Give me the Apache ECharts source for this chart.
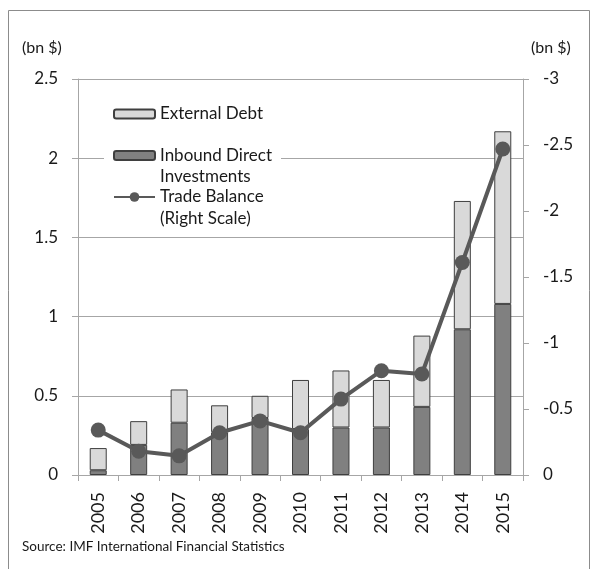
<!DOCTYPE html>
<html>
<head>
<meta charset="utf-8">
<script src="https://cdn.jsdelivr.net/npm/echarts@6/dist/echarts.min.js"></script>
<style>html,body{margin:0;padding:0;background:#fff}#c{width:597px;height:569px}</style>
</head>
<body>
<div id="c"></div>
<script>
var years = ['2005','2006','2007','2008','2009','2010','2011','2012','2013','2014','2015'];
var inboundDirect = [0.03, 0.19, 0.33, 0.27, 0.36, 0.29, 0.30, 0.30, 0.43, 0.92, 1.08];
var externalDebt = [0.14, 0.15, 0.21, 0.17, 0.14, 0.31, 0.36, 0.30, 0.45, 0.81, 1.09];
var tradeBalance = [-0.34, -0.18, -0.145, -0.32, -0.41, -0.32, -0.575, -0.79, -0.765, -1.61, -2.47];

var FONT = 'Lato';
var TXT = '#1a1a1a';
var GRID = '#a6a6a6';

var chart = echarts.init(document.getElementById('c'), null, {renderer: 'canvas'});
chart.setOption({
  animation: false,
  backgroundColor: '#fff',
  textStyle: {fontFamily: FONT},
  graphic: [
    {type: 'rect', z: -10, shape: {x: 8.5, y: 10.5, width: 581, height: 600},
     style: {fill: 'none', stroke: '#8c8c8c', lineWidth: 1}},
    {type: 'rect', z: 1, shape: {x: 104, y: 95, width: 177, height: 137},
     style: {fill: '#fff'}}
  ],
  title: [
    {text: '(bn $)', left: 22, top: 40, padding: 0, textStyle: {fontFamily: FONT, fontSize: 16, fontWeight: 'normal', color: TXT}},
    {text: '(bn $)', left: 531, top: 40, padding: 0, textStyle: {fontFamily: FONT, fontSize: 16, fontWeight: 'normal', color: TXT}},
    {text: 'Source: IMF International Financial Statistics', left: 22, top: 540, padding: 0,
     textStyle: {fontFamily: FONT, fontSize: 13.5, fontWeight: 'normal', color: TXT}}
  ],
  legend: [
    {data: ['External Debt'], left: 113, top: 104, padding: 0, selectedMode: false,
     itemWidth: 41, itemHeight: 9, itemGap: 4,
     textStyle: {fontFamily: FONT, fontSize: 17, color: TXT, lineHeight: 20}},
    {data: ['Inbound Direct Investments'], left: 113, top: 124, padding: 0, selectedMode: false,
     itemWidth: 41, itemHeight: 9, itemGap: 4,
     formatter: function(){ return '\nInbound Direct\nInvestments'; },
     textStyle: {fontFamily: FONT, fontSize: 17, color: TXT, lineHeight: 21}},
    {data: ['Trade Balance (Right Scale)'], left: 113, top: 164, padding: 0, selectedMode: false,
     itemWidth: 41, itemHeight: 12, itemGap: 4,
     formatter: function(){ return '\nTrade Balance\n(Right Scale)'; },
     textStyle: {fontFamily: FONT, fontSize: 17, color: TXT, lineHeight: 22}}
  ],
  grid: {left: 78, right: 74, top: 79, bottom: 94, containLabel: false},
  xAxis: {
    type: 'category', data: years, boundaryGap: true,
    axisLine: {show: true, lineStyle: {color: GRID, width: 1}},
    axisTick: {show: true, length: 6, lineStyle: {color: GRID}},
    axisLabel: {rotate: 90, fontFamily: FONT, fontSize: 18, color: TXT, margin: 17}
  },
  yAxis: [
    {type: 'value', min: 0, max: 2.5, interval: 0.5, position: 'left',
     axisLine: {show: true, lineStyle: {color: GRID}},
     axisTick: {show: true, length: 6, lineStyle: {color: GRID}},
     splitLine: {show: true, lineStyle: {color: GRID, width: 1}},
     axisLabel: {fontFamily: FONT, fontSize: 17, color: TXT, margin: 20}},
    {type: 'value', min: -3, max: 0, interval: 0.5, inverse: true, position: 'right',
     axisLine: {show: true, lineStyle: {color: GRID}},
     axisTick: {show: true, length: 6, lineStyle: {color: GRID}},
     splitLine: {show: false},
     axisLabel: {fontFamily: FONT, fontSize: 17, color: TXT, margin: 20}}
  ],
  series: [
    {name: 'Inbound Direct Investments', type: 'bar', stack: 'total', data: inboundDirect,
     barWidth: 17, itemStyle: {color: '#808080', borderColor: '#3f3f3f', borderWidth: 1}, z: 2},
    {name: 'External Debt', type: 'bar', stack: 'total', data: externalDebt,
     barWidth: 17, itemStyle: {color: '#d9d9d9', borderColor: '#3f3f3f', borderWidth: 1}, z: 2},
    {name: 'Trade Balance (Right Scale)', type: 'line', yAxisIndex: 1, data: tradeBalance,
     symbol: 'circle', symbolSize: 15, z: 5,
     lineStyle: {color: '#595959', width: 4},
     itemStyle: {color: '#595959'}}
  ]
});
</script>
</body>
</html>
